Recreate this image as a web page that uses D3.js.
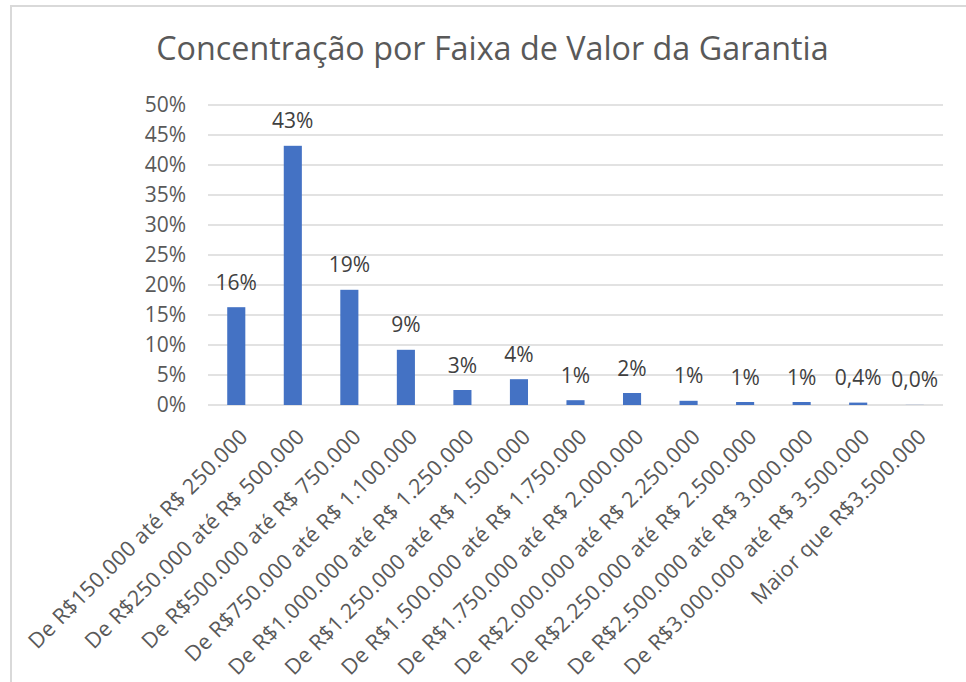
<!DOCTYPE html>
<html>
<head>
<meta charset="utf-8">
<script src="https://cdn.jsdelivr.net/npm/d3@7"></script>
<style>
  html, body { margin: 0; padding: 0; background: #fff; }
  svg { display: block; font-family: "Open Sans", "Noto Sans", sans-serif; }
</style>
</head>
<body>
<svg id="chart" width="966" height="682"></svg>
<script>
var title = "Concentração por Faixa de Valor da Garantia";

var categories = [
  "De R$150.000 até R$ 250.000",
  "De R$250.000 até R$ 500.000",
  "De R$500.000 até R$ 750.000",
  "De R$750.000 até R$ 1.100.000",
  "De R$1.000.000 até R$ 1.250.000",
  "De R$1.250.000 até R$ 1.500.000",
  "De R$1.500.000 até R$ 1.750.000",
  "De R$1.750.000 até R$ 2.000.000",
  "De R$2.000.000 até R$ 2.250.000",
  "De R$2.250.000 até R$ 2.500.000",
  "De R$2.500.000 até R$ 3.000.000",
  "De R$3.000.000 até R$ 3.500.000",
  "Maior que R$3.500.000"
];

// share of contracts in each band (fraction)
var shares = [0.163, 0.432, 0.192, 0.092, 0.025, 0.043, 0.008, 0.020, 0.007, 0.005, 0.005, 0.004, 0.0002];

var valueLabels = ["16%", "43%", "19%", "9%", "3%", "4%", "1%", "2%", "1%", "1%", "1%", "0,4%", "0,0%"];

var yTicks = [0, 0.05, 0.10, 0.15, 0.20, 0.25, 0.30, 0.35, 0.40, 0.45, 0.50];

var svg = d3.select("#chart");

// chart border (only left and top edges fall inside the picture)
svg.append("rect")
  .attr("x", 11).attr("y", 6)
  .attr("width", 966).attr("height", 700)
  .attr("fill", "#fff")
  .attr("stroke", "#d9d9d9")
  .attr("stroke-width", 2);

var x = d3.scaleBand()
  .domain(categories)
  .range([208, 943])
  .paddingInner(0.68)
  .paddingOuter(0.34);

var y = d3.scaleLinear().domain([0, 0.5]).range([405, 105]);

// title
svg.append("text")
  .attr("x", 492.5)
  .attr("y", 60)
  .attr("text-anchor", "middle")
  .attr("font-size", 32.3)
  .attr("fill", "#595959")
  .text(title);

// gridlines
svg.append("g")
  .selectAll("line")
  .data(yTicks)
  .join("line")
  .attr("x1", 208).attr("x2", 943)
  .attr("y1", function (d) { return y(d); })
  .attr("y2", function (d) { return y(d); })
  .attr("stroke", "#d9d9d9")
  .attr("stroke-width", 1.3);

// y axis labels
var yAxis = d3.axisLeft(y)
  .tickValues(yTicks)
  .tickSize(0)
  .tickPadding(0)
  .tickFormat(d3.format(".0%"));

svg.append("g")
  .attr("transform", "translate(186,0)")
  .call(yAxis)
  .call(function (g) {
    g.select(".domain").remove();
    g.selectAll("text")
      .attr("font-family", "Open Sans, Noto Sans, sans-serif")
      .attr("font-size", 21)
      .attr("fill", "#595959");
  });

// bars
svg.append("g")
  .selectAll("rect")
  .data(shares)
  .join("rect")
  .attr("x", function (d, i) { return x(categories[i]); })
  .attr("y", function (d) { return y(d); })
  .attr("width", x.bandwidth())
  .attr("height", function (d) { return y(0) - y(d); })
  .attr("fill", "#4472c4");

// data labels
svg.append("g")
  .selectAll("text")
  .data(shares)
  .join("text")
  .attr("x", function (d, i) { return x(categories[i]) + x.bandwidth() / 2; })
  .attr("y", function (d) { return y(d) - 17.5; })
  .attr("text-anchor", "middle")
  .attr("font-size", 21)
  .attr("fill", "#404040")
  .text(function (d, i) { return valueLabels[i]; });

// x axis category labels, rotated
var xAxis = d3.axisBottom(x).tickSize(0).tickPadding(0);

svg.append("g")
  .attr("transform", "translate(0,405)")
  .call(xAxis)
  .call(function (g) {
    g.select(".domain").remove();
    g.selectAll("text")
      .attr("font-family", "Open Sans, Noto Sans, sans-serif")
      .attr("font-size", 21.5)
      .attr("letter-spacing", 0.3)
      .attr("fill", "#595959")
      .attr("text-anchor", "end")
      .attr("dy", null)
      .attr("y", 0)
      .attr("transform", "translate(13,33) rotate(-45)");
  });
</script>
</body>
</html>
